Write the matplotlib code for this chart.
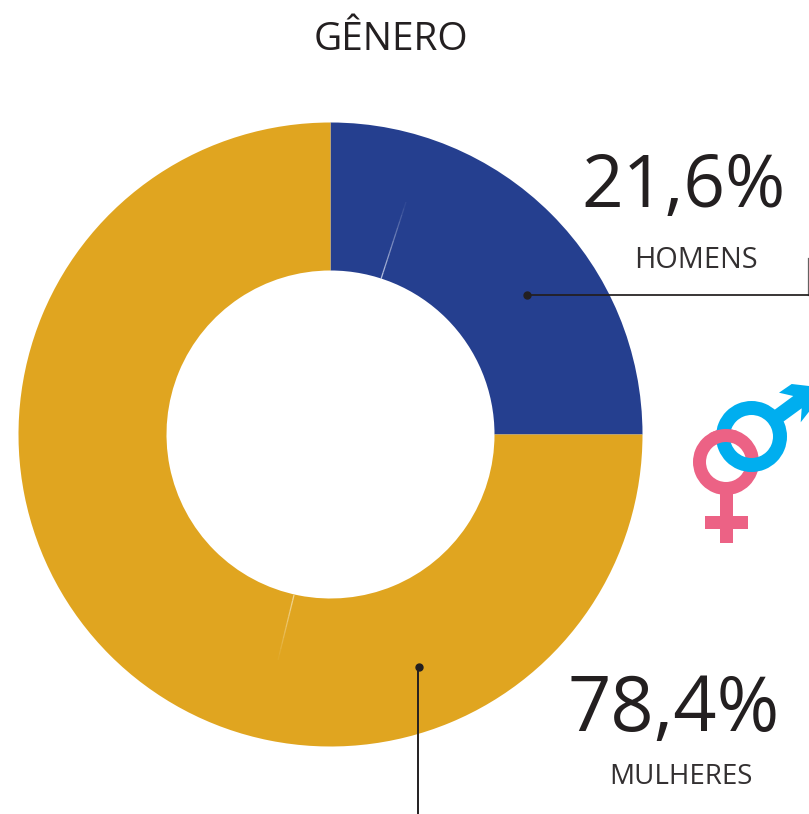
import matplotlib
matplotlib.use("Agg")
import matplotlib.pyplot as plt
from matplotlib.patches import Circle, Rectangle, Polygon, Wedge
import numpy as np

labels = ["HOMENS", "MULHERES"]
values = [25.0, 75.0]
value_labels = ["21,6%", "78,4%"]
colors = ["#253F8F", "#E0A520"]

W, H = 809, 814
fig = plt.figure(figsize=(W/100, H/100), dpi=100)
ax = fig.add_axes([0, 0, 1, 1])
ax.set_xlim(0, W); ax.set_ylim(H, 0); ax.axis("off")

pie_ax = fig.add_axes([18.5/W, 1-746.5/H, 624/W, 624/H])
pie_ax.pie(values, colors=colors, startangle=90, counterclock=False, radius=1,
           wedgeprops=dict(width=148/312, linewidth=0))
pie_ax.set_xlim(-1, 1); pie_ax.set_ylim(-1, 1)

font = "Open Sans"
txt = "#231F20"
ax.text(391, 40, "GÊNERO", ha="center", va="center", fontsize=28, color=txt, family=font)
ax.text(684, 188, value_labels[0], ha="center", va="center", fontsize=52.5, color=txt, family=font)
ax.text(696, 261, labels[0], ha="center", va="center", fontsize=20.8, color="#333031", family=font)
ax.text(674, 711, value_labels[1], ha="center", va="center", fontsize=54.5, color=txt, family=font)
ax.text(681, 777, labels[1], ha="center", va="center", fontsize=20, color="#333031", family=font)

ax.set_zorder(2)
ax.patch.set_visible(False)
ax.plot([527, 809], [295, 295], color=txt, lw=1.4, alpha=0.9)
ax.plot([808.5, 808.5], [258, 295], color=txt, lw=0.9, alpha=0.7)
ax.plot([527], [295], "o", color=txt, ms=5)
ax.plot([418.5, 418.5], [667, 814], color=txt, lw=1.4)
ax.plot([419], [667], "o", color=txt, ms=5)


def fading(x0, y0, x1, y1, color, n=12):
    for i in range(n):
        a, b = i / n, (i + 1) / n
        ax.plot([x0 + (x1 - x0) * a, x0 + (x1 - x0) * b],
                [y0 + (y1 - y0) * a, y0 + (y1 - y0) * b],
                color=color, lw=0.9, alpha=0.9 * (1 - a), solid_capstyle="butt")


fading(381, 279, 406, 202, "#C5CDE6")
fading(294, 595, 278, 660, "#F3DDA6")

pink = "#EC6285"; blue = "#00AEEF"
ax.add_patch(Wedge((726, 462), 33, 0, 360, width=13, color=pink, lw=0))
ax.add_patch(Rectangle((720, 494), 13, 49, color=pink, lw=0))
ax.add_patch(Rectangle((705, 516), 43, 13, color=pink, lw=0))
ax.add_patch(Wedge((751.5, 436.5), 35.5, 0, 360, width=14, color=blue, lw=0))
ax.add_patch(Polygon([(774.3, 410), (793.3, 396), (779, 392.7), (791.7, 384), (809, 386),
                      (809, 411.7), (800.7, 422.3), (801.7, 408.3), (783.3, 421.7)],
                     color=blue, lw=0))
# the pink ring passes over the blue one at the top
ax.add_patch(Wedge((726, 462), 33, 240, 290, width=13, color=pink, lw=0))

fig.savefig("out.png", dpi=100)
